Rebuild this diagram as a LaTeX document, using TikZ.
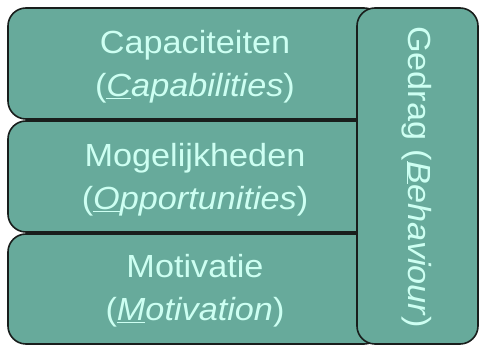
\documentclass[tikz,border=0pt]{standalone}
\usepackage{fontspec}
\setmainfont[FakeStretch=1.07]{Liberation Sans}
\definecolor{boxfill}{RGB}{103,170,155}
\definecolor{boxtext}{RGB}{205,255,242}
\definecolor{boxline}{RGB}{25,30,28}
\begin{document}
\begin{tikzpicture}[x=1pt,y=-1pt,
  panel/.style={draw=boxline,line width=1.6pt,fill=boxfill,rounded corners=18pt},
  label/.style={text=boxtext,font=\fontsize{32}{43}\selectfont,align=center,inner sep=0pt}]
\useasboundingbox (0,0) rectangle (483,347);
\fill[white] (0,0) rectangle (483,347);
\draw[panel] (8,8) rectangle (382,119);
\draw[panel] (8,121) rectangle (382,232);
\draw[panel] (8,234) rectangle (382,344);
\draw[panel] (357,8) rectangle (478,344);
\node[label] (cap) at (195,67) {Capaciteiten\\(\textit{\underline{C}apabilities})};
\node[label] (opp) at (195,180) {Mogelijkheden\\(\textit{\underline{O}pportunities})};
\node[label] (mot) at (195,291) {Motivatie\\(\textit{\underline{M}otivation})};
\node[label,rotate=-90] (beh) at (417,177) {Gedrag (\textit{\underline{B}ehaviour})};
\end{tikzpicture}
\end{document}
